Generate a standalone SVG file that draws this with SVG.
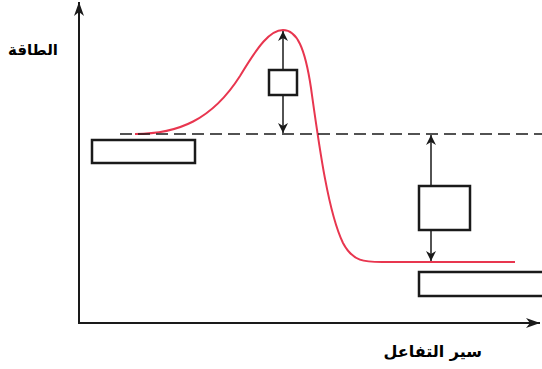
<svg xmlns="http://www.w3.org/2000/svg" width="542" height="369" viewBox="0 0 542 369">
<style>
.ax{stroke:#1a1a1a;stroke-width:2;fill:none}
.box{fill:#fff;stroke:#1a1a1a;stroke-width:2.5}
.dim{stroke:#1a1a1a;stroke-width:1.5;fill:none}
.lbl{font-family:"DejaVu Sans",sans-serif;font-weight:bold;font-size:15px;fill:#000}
</style>
<defs>
<marker id="ah" viewBox="0 0 10 10" refX="10" refY="5" markerWidth="10" markerHeight="10" markerUnits="userSpaceOnUse" orient="auto">
<path d="M0,0 L10,5 L0,10 L3,5 Z" fill="#1a1a1a"/>
</marker>
<marker id="axh" viewBox="0 0 14 10" refX="14" refY="5" markerWidth="14" markerHeight="10" markerUnits="userSpaceOnUse" orient="auto">
<path d="M0,0 L14,5 L0,10 L4,5 Z" fill="#1a1a1a"/>
</marker>
</defs>
<g id="axes">
<line class="ax" x1="79" y1="324" x2="79" y2="2" marker-end="url(#axh)"/>
<line class="ax" x1="78" y1="323" x2="540" y2="323" marker-end="url(#axh)"/>
</g>
<g id="ylabel"><text class="lbl" x="58" y="55" text-anchor="start" direction="rtl">الطاقة</text></g>
<g id="xlabel"><text class="lbl" x="482" y="357" text-anchor="start" direction="rtl" style="font-size:16px">سير التفاعل</text></g>
<g id="curve">
<path d="M135,134 C178,134 212,120 240,76 C258,46 270,30 283,30 C297,30 305,48 311,88 C319,145 328,212 343,243 C353,262 365,262 382,262 L515,262" fill="none" stroke="#e8364f" stroke-width="2"/>
</g>
<g id="connectors">
<line x1="120" y1="134" x2="542" y2="134" stroke="#1a1a1a" stroke-width="1.5" stroke-dasharray="12,6"/>
<line class="dim" x1="283" y1="70" x2="283" y2="31" marker-end="url(#ah)"/>
<line class="dim" x1="283" y1="95" x2="283" y2="133" marker-end="url(#ah)"/>
<line class="dim" x1="431" y1="186" x2="431" y2="135" marker-end="url(#ah)"/>
<line class="dim" x1="431" y1="230" x2="431" y2="261" marker-end="url(#ah)"/>
</g>
<g id="box-reactants"><rect class="box" x="92" y="140" width="103" height="23"/></g>
<g id="box-ea"><rect class="box" x="269" y="70" width="28" height="25"/></g>
<g id="box-dh"><rect class="box" x="419" y="186" width="51" height="44"/></g>
<g id="box-products"><rect class="box" x="419" y="272" width="130" height="24"/></g>
</svg>
